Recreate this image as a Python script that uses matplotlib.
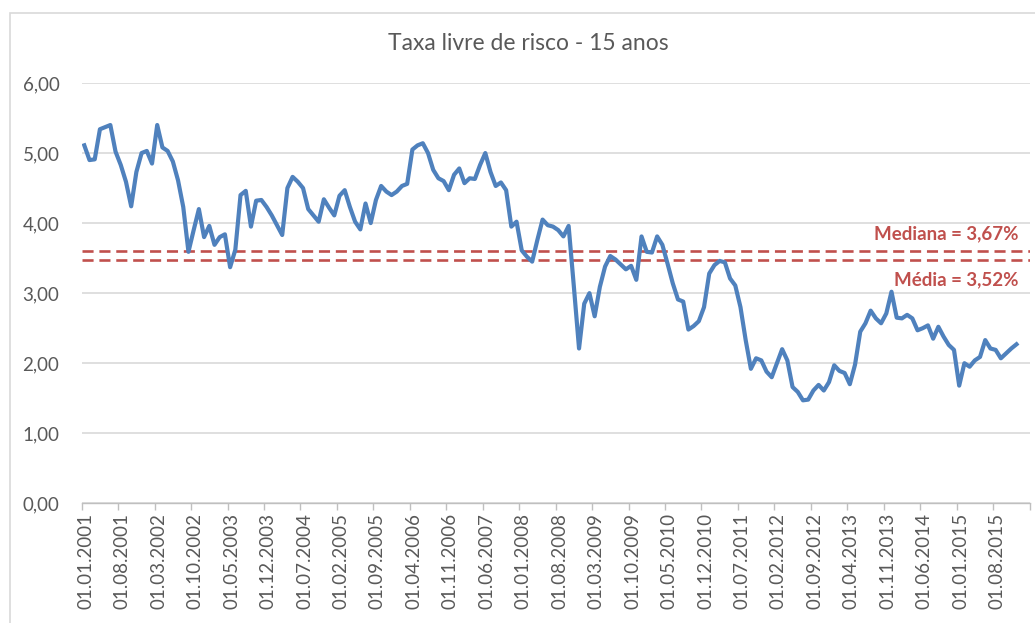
import matplotlib
matplotlib.use("Agg")
import matplotlib.pyplot as plt
from matplotlib.patches import Rectangle
from matplotlib.ticker import FuncFormatter

title = "Taxa livre de risco - 15 anos"

rates = [
    5.11, 4.90, 4.91, 5.34, 5.37, 5.40, 5.02, 4.83, 4.59, 4.24, 4.73, 5.00,
    5.03, 4.85, 5.40, 5.08, 5.03, 4.88, 4.61, 4.23, 3.59, 3.90, 4.20, 3.80,
    3.96, 3.69, 3.80, 3.84, 3.37, 3.62, 4.40, 4.46, 3.95, 4.32, 4.33, 4.23,
    4.11, 3.97, 3.83, 4.50, 4.66, 4.59, 4.50, 4.20, 4.11, 4.02, 4.34, 4.22,
    4.11, 4.39, 4.47, 4.23, 4.02, 3.91, 4.28, 4.00, 4.33, 4.53, 4.45, 4.40,
    4.45, 4.53, 4.56, 5.05, 5.11, 5.14, 5.00, 4.76, 4.64, 4.60, 4.47, 4.69,
    4.78, 4.57, 4.64, 4.63, 4.83, 5.00, 4.73, 4.53, 4.58, 4.47, 3.95, 4.02,
    3.61, 3.52, 3.45, 3.76, 4.05, 3.97, 3.95, 3.90, 3.81, 3.96, 3.10, 2.21,
    2.85, 3.00, 2.67, 3.09, 3.38, 3.53, 3.48, 3.41, 3.34, 3.39, 3.19, 3.81,
    3.59, 3.58, 3.81, 3.69, 3.42, 3.14, 2.91, 2.88, 2.48, 2.53, 2.60, 2.80,
    3.28, 3.40, 3.46, 3.44, 3.21, 3.11, 2.80, 2.33, 1.92, 2.07, 2.04, 1.88,
    1.80, 2.00, 2.20, 2.04, 1.66, 1.59, 1.47, 1.48, 1.61, 1.69, 1.61, 1.73,
    1.97, 1.89, 1.86, 1.70, 1.98, 2.45, 2.57, 2.75, 2.64, 2.57, 2.71, 3.02,
    2.65, 2.64, 2.69, 2.64, 2.47, 2.50, 2.54, 2.35, 2.52, 2.38, 2.26, 2.19,
    1.68, 2.00, 1.95, 2.04, 2.09, 2.33, 2.21, 2.19, 2.07, 2.14, 2.21, 2.27,
]

tick_labels = [
    "01.01.2001", "01.08.2001", "01.03.2002", "01.10.2002", "01.05.2003",
    "01.12.2003", "01.07.2004", "01.02.2005", "01.09.2005", "01.04.2006",
    "01.11.2006", "01.06.2007", "01.01.2008", "01.08.2008", "01.03.2009",
    "01.10.2009", "01.05.2010", "01.12.2010", "01.07.2011", "01.02.2012",
    "01.09.2012", "01.04.2013", "01.11.2013", "01.06.2014", "01.01.2015",
    "01.08.2015",
]
tick_step = 7  # months between labels

ref_values = [3.60, 3.48]  # line positions as drawn
ref_labels = ["Mediana = 3,67%", "Média = 3,52%"]

y_ticks = [0, 1, 2, 3, 4, 5, 6]

plt.rcParams['font.family'] = ['Lato', 'DejaVu Sans']

fig = plt.figure(figsize=(10.35, 6.23), dpi=100)
ax = fig.add_axes([81.7/1035, 1 - 503.3/623, (1029.5 - 81.7)/1035, (503.3 - 83)/623])

x = list(range(len(rates)))
ax.plot(x, rates, color="#4F81BD", lw=3.0, solid_joinstyle="round", zorder=3)

red = "#C0504D"
for v in ref_values:
    ax.axhline(v, color=red, lw=1.9, ls=(0, (4.2, 2.2)), zorder=2)

ax.text(179.3, ref_values[0] + 0.12, ref_labels[0], ha="right", va="bottom",
        color=red, fontsize=13.5, fontweight="bold")
ax.text(179.3, ref_values[1] - 0.17, ref_labels[1], ha="right", va="top",
        color=red, fontsize=13.5, fontweight="bold")

ax.set_xlim(-0.5, len(rates) - 0.5)
ax.set_ylim(0, 6)
ax.set_yticks(y_ticks)
ax.yaxis.set_major_formatter(FuncFormatter(lambda v, p: f"{v:.2f}".replace(".", ",")))
ax.grid(axis="y", color="#D9D9D9", lw=1.2)
ax.set_axisbelow(True)

major_pos = [k * tick_step + 0.3 for k in range(len(tick_labels))]
ax.set_xticks(major_pos)
ax.set_xticklabels(tick_labels, rotation=90, ha="center", va="top")
ax.set_xticks([k * tick_step - 0.5 for k in range(len(tick_labels) + 1)], minor=True)
ax.tick_params(axis="x", which="major", length=0, pad=7, labelsize=13.5, labelcolor="#595959")
ax.tick_params(axis="x", which="minor", length=5, color="#BFBFBF", width=1)
ax.tick_params(axis="y", length=0, pad=16, labelsize=13.5, labelcolor="#595959")

for s in ["top", "right", "left"]:
    ax.spines[s].set_visible(False)
ax.spines["bottom"].set_color("#BFBFBF")
ax.spines["bottom"].set_linewidth(1)

fig.text(528/1035, 1 - 43/623, title, ha="center", va="center",
         fontsize=16.5, color="#595959")

fig.patches.append(Rectangle((10/1035, -0.1), 1.2, 1.1 - 13/623,
                             transform=fig.transFigure, fill=False,
                             edgecolor="#D9D9D9", lw=1.2))

fig.savefig("out.png", dpi=100)
